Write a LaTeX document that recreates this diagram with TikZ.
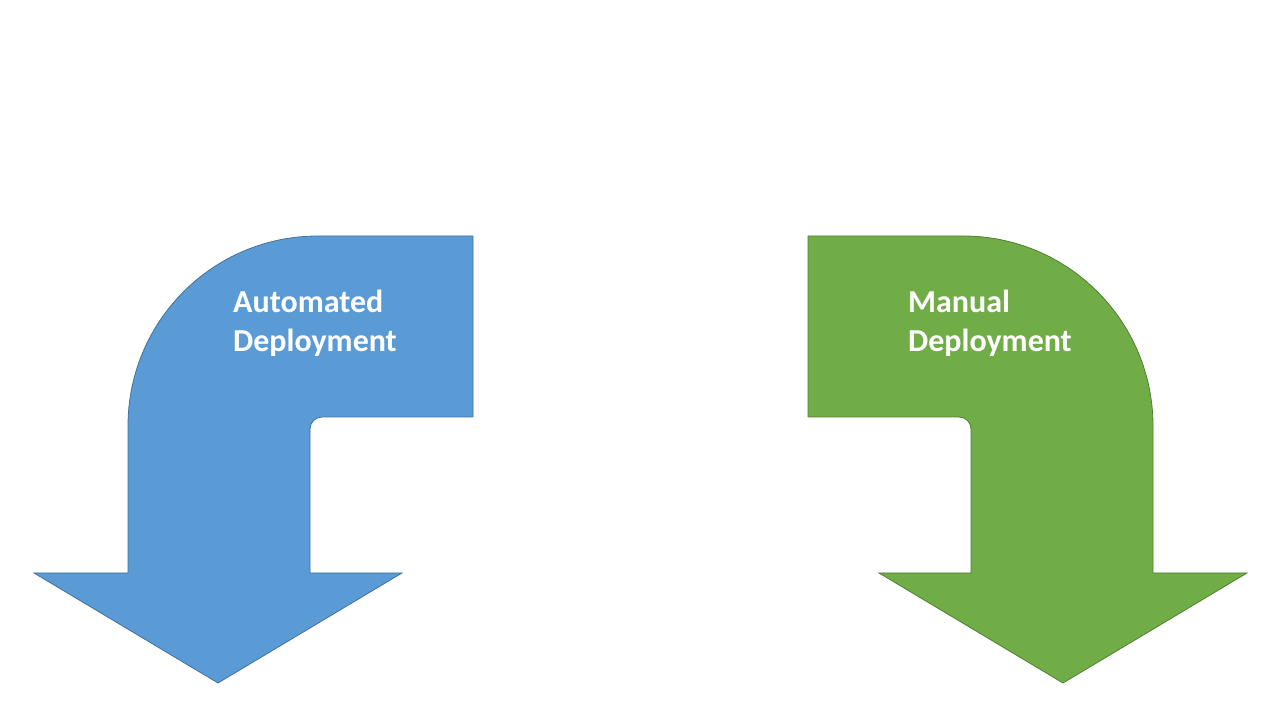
\documentclass[tikz,border=0pt]{standalone}
\usepackage{fontspec}
\setmainfont{Carlito}
\usetikzlibrary{positioning}
\definecolor{autoblue}{HTML}{5B9BD5}
\definecolor{autoedge}{HTML}{41719C}
\definecolor{mangreen}{HTML}{70AD47}
\definecolor{manedge}{HTML}{507E32}
\tikzset{bent/.style={line width=0.8pt, line join=miter}}
\tikzset{lbl/.style={text=white, font=\fontsize{32}{39}\selectfont\bfseries, align=left, inner sep=0pt, anchor=base west}}
\begin{document}
\begin{tikzpicture}[x=1pt, y=1pt]
\useasboundingbox (0,0) rectangle (1280,720);

% automated deployment arrow
\draw[bent, fill=autoblue, draw=autoedge] (128,147) -- (128,294)
  arc[start angle=180, end angle=90, radius=190pt] -- (473,484)
  -- (473,303) -- (322,303) arc[start angle=90, end angle=180, radius=12pt]
  -- (310,147) -- (402,147) -- (218,37) -- (34,147) -- cycle;

% manual deployment arrow, mirrored
\begin{scope}[xshift=1281pt, xscale=-1]
\draw[bent, fill=mangreen, draw=manedge] (128,147) -- (128,294)
  arc[start angle=180, end angle=90, radius=190pt] -- (473,484)
  -- (473,303) -- (322,303) arc[start angle=90, end angle=180, radius=12pt]
  -- (310,147) -- (402,147) -- (218,37) -- (34,147) -- cycle;
\end{scope}

\node[lbl] (auto) at (233,368) {Automated\\Deployment};
\node[lbl] (man) at (908,368) {Manual\\Deployment};
\end{tikzpicture}
\end{document}
